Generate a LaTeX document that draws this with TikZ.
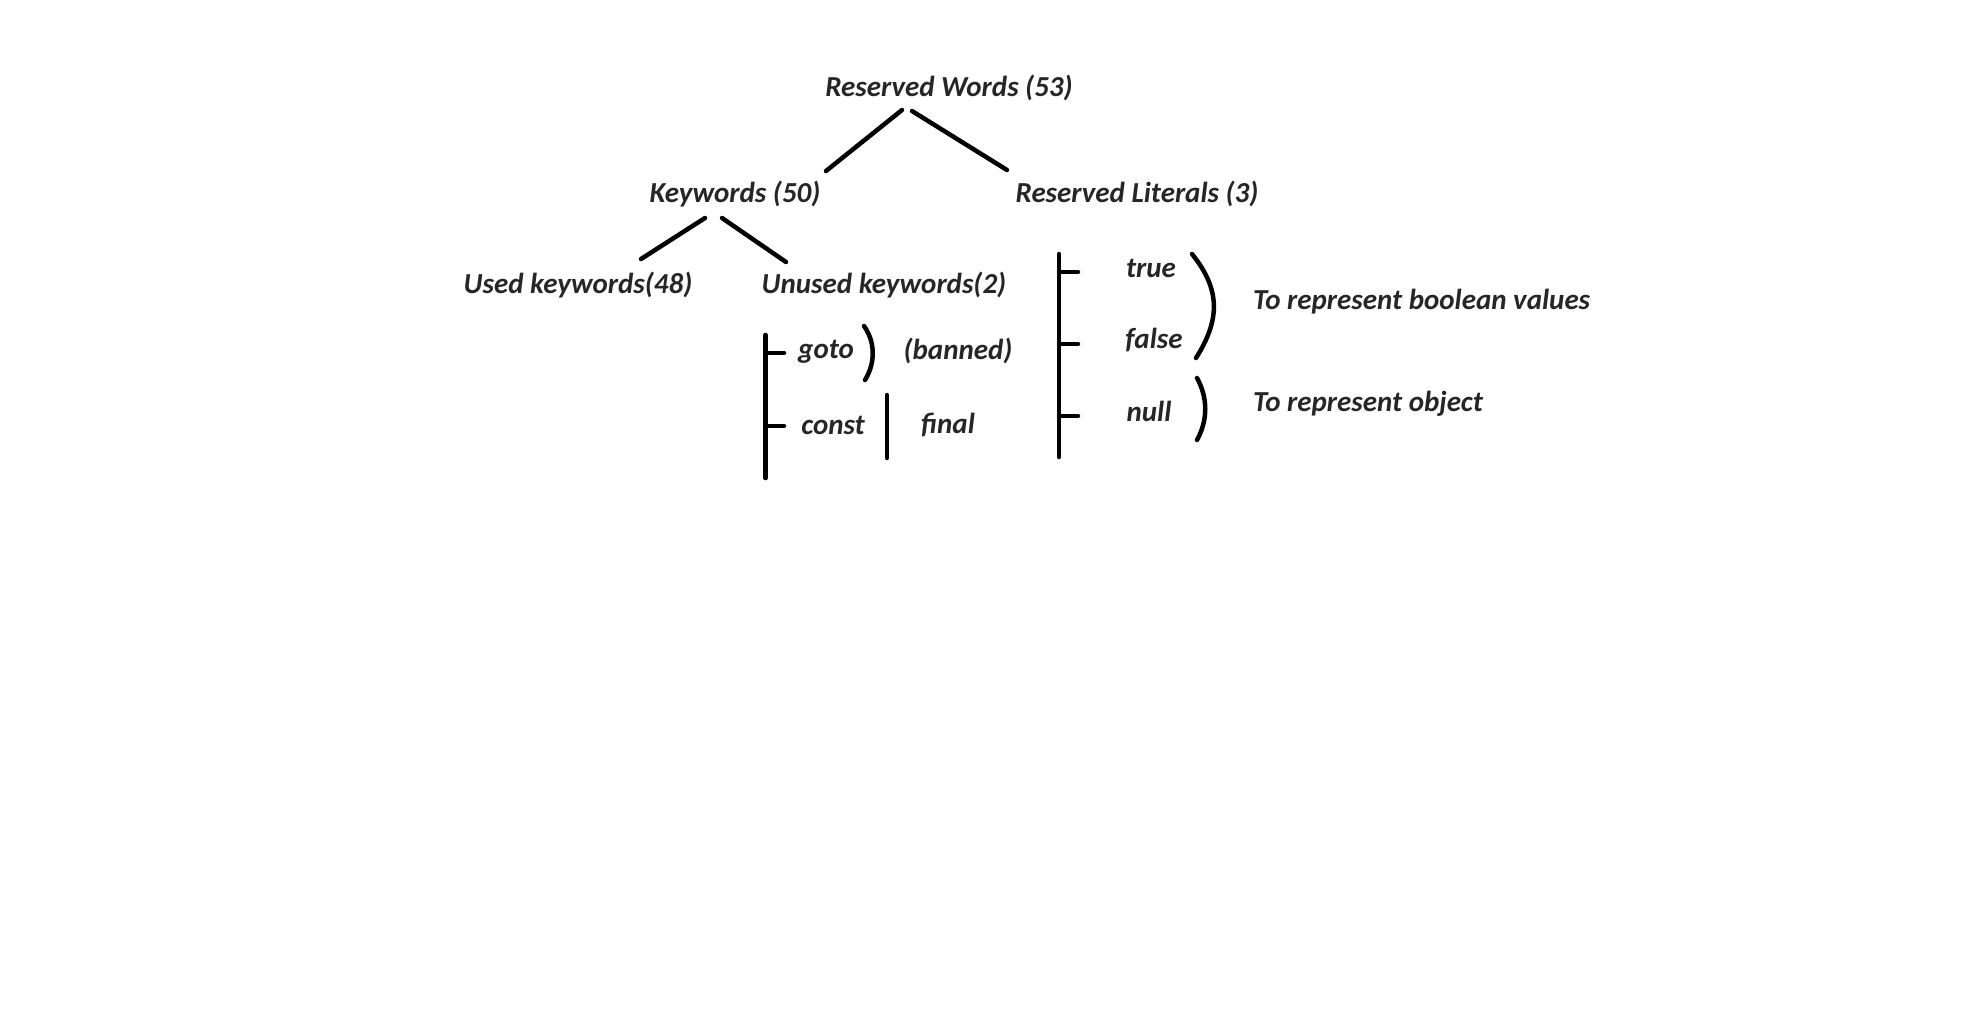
\documentclass[tikz,border=0pt]{standalone}
\usepackage{fontspec}
\setmainfont{Carlito}
\begin{document}
\begin{tikzpicture}[x=1pt,y=-1pt,
  lbl/.style={font=\fontsize{29}{34}\selectfont\bfseries\itshape, text=txtc, inner sep=0pt},
  ln/.style={line width=4.5pt, line cap=round, black}]
\definecolor{txtc}{HTML}{262626}
\useasboundingbox[fill=white] (0,0) rectangle (1984,1026);
% texts
\node[lbl] (rw) at (949,87.5) {Reserved Words (53)};
\node[lbl] (kw) at (735,194) {Keywords (50)};
\node[lbl] (rl) at (1137,194) {Reserved Literals (3)};
\node[lbl] (uk) at (578,285) {Used keywords(48)};
\node[lbl] (nk) at (884,285) {Unused keywords(2)};
\node[lbl] (goto) at (826,352) {goto};
\node[lbl] (ban) at (958,351) {(banned)};
\node[lbl] (const) at (833,425) {const};
\node[lbl] (final) at (948,425) {final};
\node[lbl] (true) at (1151,268) {true};
\node[lbl] (false) at (1154,340) {false};
\node[lbl] (null) at (1149,411) {null};
\node[lbl, anchor=west] (bool) at (1253,302) {To represent boolean values};
\node[lbl, anchor=west] (obj) at (1253,404) {To represent object};
% tree connector end points
\coordinate (rwL) at (902,110); \coordinate (kwT) at (826,171);
\coordinate (rwR) at (912,111); \coordinate (rlT) at (1007,170);
\coordinate (kwL) at (705,218); \coordinate (ukT) at (641,259);
\coordinate (kwR) at (722,218); \coordinate (nkT) at (786,262);
\draw[ln] (rwL) -- (kwT);
\draw[ln] (rwR) -- (rlT);
\draw[ln] (kwL) -- (ukT);
\draw[ln] (kwR) -- (nkT);
% unused keywords bracket
\coordinate (ubT) at (765.5,335); \coordinate (ubB) at (765.5,478);
\draw[ln] (ubT) -- (ubB);
\draw[ln] (765.5,353) -- (784,353);
\draw[ln] (765.5,426) -- (784,426);
\draw[ln] (864,326) .. controls (876,343) and (875,364) .. (865,380);
\draw[ln] (887,395) -- (887,458);
% reserved literals bracket
\draw[ln] (1059,254) -- (1059,457);
\draw[ln] (1059,272) -- (1078,272);
\draw[ln] (1059,344) -- (1078,344);
\draw[ln] (1059,416) -- (1078,416);
\draw[ln] (1192,254) .. controls (1221,290) and (1220,320) .. (1196,358);
\draw[ln] (1197,378) .. controls (1208,398) and (1208,420) .. (1197,440);
\end{tikzpicture}
\end{document}
